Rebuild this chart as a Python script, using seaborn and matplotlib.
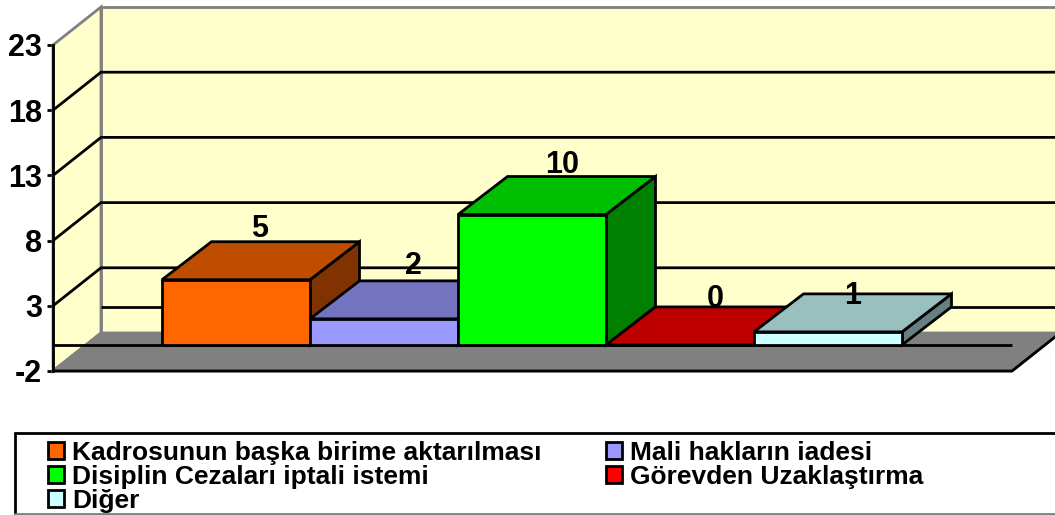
import matplotlib
matplotlib.use("Agg")
import matplotlib.pyplot as plt
from matplotlib.patches import Polygon, Rectangle
from matplotlib.colors import to_rgb
import seaborn as sns

categories = ["Kadrosunun başka birime aktarılması", "Mali hakların iadesi",
              "Disiplin Cezaları iptali istemi", "Görevden Uzaklaştırma", "Diğer"]
values = [5, 2, 10, 0, 1]
colors = ["#FF6600", "#9999FF", "#00FF00", "#FF0000", "#CCFFFF"]
y_ticks = [-2, 3, 8, 13, 18, 23]

W, H = 1055, 515
L, R, T, B = 53, 1012, 45, 371      # plot box in pixels
CAT_PX = 148                        # pixels per category
WALL_DX_PX, BAR_DX_PX, DEPTH_Y_PX = 48, 49.5, 38
label_lift_px = [13, 15, 12, 8, -2] # label distance above the bar's back top edge
label_shift_px = [-1, 5, 5, 10, 0]  # label sideways nudge

sns.set_theme(style="white")
plt.rcParams["font.family"] = ["Liberation Sans", "DejaVu Sans"]
plt.rcParams["font.weight"] = "bold"
plt.rcParams["axes.unicode_minus"] = False
LW = 2.0

fig = plt.figure(figsize=(W / 100, H / 100), dpi=100, facecolor="white")
ax = fig.add_axes([L / W, 1 - B / H, (R - L) / W, (B - T) / H])
ax.patch.set_visible(False)

sns.barplot(x=categories, y=values, hue=categories, palette=colors, order=categories,
            hue_order=categories, width=1, dodge=False, saturation=1, legend=False,
            edgecolor="black", linewidth=LW, ax=ax)

xmin = -(236 - L) / CAT_PX
xmax = xmin + (R - L) / CAT_PX
ymin, ymax = y_ticks[0], y_ticks[-1]
ax.set_xlim(xmin, xmax)
ax.set_ylim(ymin, ymax)
dx = WALL_DX_PX / CAT_PX
bdx = BAR_DX_PX / CAT_PX
dy = DEPTH_Y_PX / ((B - T) / (ymax - ymin))


def poly(pts, fc, ec="black", z=1, lw=LW):
    ax.add_patch(Polygon(pts, closed=True, facecolor=fc, edgecolor=ec, linewidth=lw,
                         zorder=z, clip_on=False, joinstyle="miter"))


def line(xs, ys, color="black", z=1.5):
    ax.plot(xs, ys, color=color, lw=LW, zorder=z, clip_on=False, solid_capstyle="butt")


def shade(c, f):
    return tuple(v * f for v in to_rgb(c))


# walls and floor
wall = "#FFFFCC"
poly([(xmin + dx, ymin + dy), (xmax + dx, ymin + dy), (xmax + dx, ymax + dy), (xmin + dx, ymax + dy)],
     wall, "#808080", 1)
poly([(xmin, ymin), (xmin + dx, ymin + dy), (xmin + dx, ymax + dy), (xmin, ymax)], wall, "#808080", 1)
poly([(xmin, ymin), (xmax, ymin), (xmax + dx, ymin + dy), (xmin + dx, ymin + dy)], "#808080", "#808080", 1.2)
line([xmin, xmax, xmax + dx], [ymin, ymin, ymin + dy], z=1.3)

# gridlines
for t in y_ticks[1:-1]:
    line([xmin, xmin + dx, xmax + dx], [t, t + dy, t + dy])
line([xmin + dx, xmax + dx], [dy, dy])
line([xmin, xmax], [0, 0], z=1.6)

# 3-D faces of each bar, painted left to right over its neighbour
for i, (v, c) in enumerate(zip(values, colors)):
    x0, x1 = i - 0.5, i + 0.5
    z = 3 + i
    poly([(x1, 0), (x1 + bdx, dy), (x1 + bdx, v + dy), (x1, v)], shade(c, 0.5), z=z)
    poly([(x0, v), (x1, v), (x1 + bdx, v + dy), (x0 + bdx, v + dy)], shade(c, 0.75), z=z)
    for cont in ax.containers:
        for p in cont:
            if abs(p.get_x() + p.get_width() / 2 - i) < 0.01:
                p.set_zorder(z + 0.1)
                p.set_clip_on(False)
    ax.annotate(str(v), (i + bdx / 2, v + dy),
                xytext=(label_shift_px[i] * 0.72, label_lift_px[i] * 0.72),
                textcoords="offset points", ha="center", va="center",
                fontsize=22, fontweight="bold", color="black", zorder=20, annotation_clip=False)

# axes furniture
sns.despine(ax=ax, top=True, right=True)
ax.spines["left"].set_color("black")
ax.spines["left"].set_linewidth(LW)
ax.spines["left"].set_zorder(2)
ax.spines["bottom"].set_visible(False)
ax.set_yticks(y_ticks)
ax.set_xticks([])
ax.tick_params(axis="y", left=True, length=4, width=LW, color="black", pad=4,
               labelsize=22, labelcolor="black")
for lab in ax.get_yticklabels():
    lab.set_fontweight("bold")
ax.set_xlabel("")
ax.set_ylabel("")

# legend
fig.add_artist(plt.Line2D([15 / W, 15 / W], [1 - 433 / H, 0], color="black", lw=LW))
fig.add_artist(plt.Line2D([15 / W, 1], [1 - 433 / H, 1 - 433 / H], color="black", lw=LW))
fig.add_artist(plt.Line2D([15 / W, 1], [1 / H, 1 / H], color="#808080", lw=LW))

handles = [Rectangle((0, 0), 1, 1, facecolor=c, edgecolor="black", linewidth=LW) for c in colors]
# Matplotlib fills columns first: arrange so rows read left to right
order = [0, 2, 4, 1, 3]
leg = fig.legend([handles[i] for i in order], [categories[i] for i in order], ncols=2,
                 loc="upper left", bbox_to_anchor=(48 / W, 1 - 441 / H), bbox_transform=fig.transFigure,
                 frameon=False, handlelength=0.6, handleheight=0.6, handletextpad=0.3,
                 columnspacing=2.45, labelspacing=0.0, borderpad=0, borderaxespad=0,
                 prop={"family": "Liberation Sans", "weight": "bold", "size": 19})
for t in leg.get_texts():
    t.set_color("black")

fig.savefig("out.png", dpi=100)
